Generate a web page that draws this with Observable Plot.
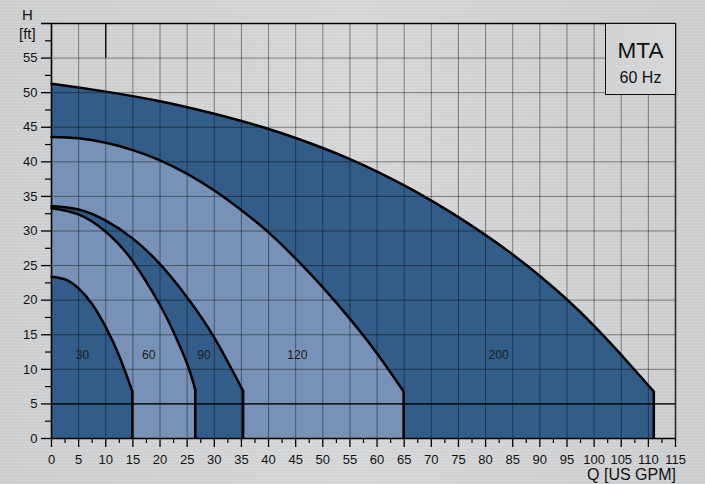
<!DOCTYPE html>
<html><head><meta charset="utf-8">
<script src="https://cdn.jsdelivr.net/npm/d3@7"></script>
<script src="https://cdn.jsdelivr.net/npm/@observablehq/plot@0.6"></script>
<style>
body{margin:0;}
#wrap{position:relative;width:705px;height:484px;overflow:hidden;font-family:"Liberation Sans",Arial,sans-serif;
background:
 repeating-linear-gradient(180deg, rgba(255,255,255,0.10) 0px, rgba(255,255,255,0.10) 1px, rgba(0,0,0,0.025) 2px, rgba(0,0,0,0) 3px),
 linear-gradient(90deg,#cdced0,#d5d6d8 50%,#cccdcf);}
#wrap svg{position:absolute;left:0;top:0;}
.lbl{position:absolute;color:#111;white-space:nowrap;line-height:1;}
#legend{position:absolute;left:605px;top:23px;width:69px;height:70px;border:1.5px solid #111;
 background:linear-gradient(90deg,#d2d3d5,#d6d7d9);text-align:center;color:#111;}
</style></head>
<body><div id="wrap"></div>
<script>
// Impeller curves: flow Q [US GPM] and head H [ft]
const flow30  = [0, 2.5, 5, 7.5, 10, 12.5, 14.9];
const head30  = [23.4, 23.0, 21.7, 19.4, 16.1, 11.9, 6.8];
const flow60  = [0, 5, 10, 15, 20, 22.5, 25, 26.5];
const head60  = [33.3, 32.4, 29.9, 25.6, 19.3, 15.4, 10.8, 7.0];
const flow90  = [0, 5, 10, 15, 20, 25, 30, 35.3];
const head90  = [33.6, 33.1, 31.5, 28.9, 25.2, 20.4, 14.6, 6.9];
const flow120 = [0, 5, 10, 15, 20, 25, 30, 35, 40, 45, 50, 55, 60, 64.9];
const head120 = [43.6, 43.4, 42.75, 41.7, 40.2, 38.25, 35.85, 33.0, 29.8, 26.0, 21.85, 17.3, 12.3, 6.8];
const flow200 = [0, 5, 10, 15, 20, 25, 30, 35, 40, 45, 50, 55, 60, 65, 70, 75, 80, 85, 90, 95, 100, 105, 111];
const head200 = [51.3, 50.75, 50.15, 49.5, 48.75, 47.9, 46.95, 45.9, 44.75, 43.45, 42.0, 40.4, 38.6, 36.6, 34.4, 32.0, 29.4, 26.6, 23.5, 20.1, 16.3, 12.1, 6.8];

const curveNames = ["200", "120", "90", "60", "30"];
const labelFlow = [82.4, 45.3, 28.1, 17.9, 5.7];
const labelHead = [12, 12, 12, 12, 12];

const xTicks = [0,5,10,15,20,25,30,35,40,45,50,55,60,65,70,75,80,85,90,95,100,105,110,115];
const yTicks = [0,5,10,15,20,25,30,35,40,45,50,55];
const minHead = [5];

const DARK = "#335d89", LIGHT = "#7891b6";
const fills = {"200": DARK, "120": LIGHT, "90": DARK, "60": LIGHT, "30": DARK};
const raw = {"30":[flow30,head30], "60":[flow60,head60], "90":[flow90,head90], "120":[flow120,head120], "200":[flow200,head200]};
const tables = curveNames.map(n => ({name: n, pts: raw[n][0].map((q, i) => ({q, h: raw[n][1][i]}))}));
const ends = tables.map(t => t.pts[t.pts.length - 1]);
const labels = curveNames.map((n, i) => ({name: n, q: labelFlow[i], h: labelHead[i]}));

const minorX = d3.range(2.5, 115, 5);
const minorY = d3.range(2.5, 60, 5);
const gridX = xTicks.filter(v => v > 0 && v < 115);
const gridY = [...yTicks.filter(v => v > 0), 60];
const CURVE = "natural";

const marks = [];
for (const t of tables) marks.push(Plot.areaY(t.pts, {x: "q", y: "h", fill: fills[t.name], curve: CURVE}));
marks.push(Plot.ruleX(gridX, {stroke: "#000", strokeOpacity: 0.42, strokeWidth: 1}));
marks.push(Plot.ruleY(gridY, {stroke: "#000", strokeOpacity: 0.42, strokeWidth: 1}));
marks.push(Plot.ruleY(minHead, {stroke: "#000", strokeWidth: 1.4}));
marks.push(Plot.ruleX([10], {y1: 55, y2: 60, stroke: "#000", strokeWidth: 1.3}));
for (const t of tables) marks.push(Plot.line(t.pts, {x: "q", y: "h", stroke: "#000", strokeWidth: 2.5, curve: CURVE}));
marks.push(Plot.ruleX(ends, {x: "q", y1: 0, y2: "h", stroke: "#000", strokeWidth: 2.6}));
marks.push(Plot.text(labels, {x: "q", y: "h", text: "name", fontSize: 12, fill: "#1a1a1a"}));
// frame
marks.push(Plot.ruleX([0], {stroke: "#000", strokeWidth: 1.6}));
marks.push(Plot.ruleY([0], {stroke: "#000", strokeWidth: 1.6}));
marks.push(Plot.ruleY([60], {stroke: "#000", strokeWidth: 1.6}));
marks.push(Plot.ruleX([115], {stroke: "#2a2a2a", strokeWidth: 1.6}));
// axes
marks.push(Plot.axisY(yTicks, {tickSize: 10, tickPadding: 4, fontSize: 13, label: null, stroke: "#000", strokeWidth: 1.3, fill: "#111"}));
marks.push(Plot.axisY([60], {tickSize: 10, text: null, label: null, stroke: "#000", strokeWidth: 1.6}));
marks.push(Plot.axisY(minorY, {tickSize: 6, text: null, label: null, stroke: "#000", strokeWidth: 1.2}));
marks.push(Plot.axisX(xTicks, {tickSize: 9, tickPadding: 7, fontSize: 13, label: null, stroke: "#000", strokeWidth: 1.3, fill: "#111"}));
marks.push(Plot.axisX(minorX, {tickSize: 5, text: null, label: null, stroke: "#000", strokeWidth: 1.2}));

const chart = Plot.plot({
  width: 705, height: 484,
  marginLeft: 51, marginRight: 30, marginTop: 23, marginBottom: 46,
  x: {domain: [0, 115]},
  y: {domain: [0, 60]},
  style: {background: "transparent", fontFamily: "'Liberation Sans', Arial, sans-serif", color: "#111"},
  marks
});
const wrap = document.getElementById("wrap");
wrap.appendChild(chart);

function addLabel(text, css) {
  const d = document.createElement("div");
  d.className = "lbl"; d.textContent = text;
  Object.assign(d.style, css);
  wrap.appendChild(d);
}
addLabel("H", {left: "22px", top: "7px", fontSize: "15px"});
addLabel("[ft]", {left: "19px", top: "26px", fontSize: "15px"});
addLabel("Q [US GPM]", {right: "29px", top: "467px", fontSize: "16px"});

const lg = document.createElement("div");
lg.id = "legend";
lg.innerHTML = '<div style="font-size:22.5px;margin-top:16px;line-height:1">MTA</div><div style="font-size:16px;margin-top:7px;line-height:1">60 Hz</div>';
wrap.appendChild(lg);
</script>
</body></html>
